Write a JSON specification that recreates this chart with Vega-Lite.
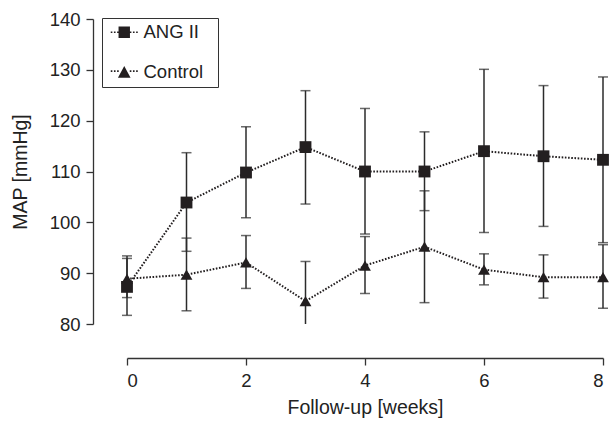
{
  "$schema": "https://vega.github.io/schema/vega-lite/v6.json",
  "width": 476,
  "height": 305,
  "autosize": {"type": "none"},
  "padding": {"left": 127, "top": 19, "right": 10, "bottom": 97},
  "config": {
    "view": {"stroke": null},
    "font": "Liberation Sans",
    "axis": {
      "domainColor": "#333333",
      "domainWidth": 1.3,
      "tickColor": "#333333",
      "tickWidth": 1.3,
      "labelColor": "#222222",
      "titleColor": "#222222",
      "labelFontSize": 18.5,
      "titleFontSize": 19.5,
      "titleFontWeight": "normal",
      "grid": false,
      "tickSize": 7,
      "labelPadding": 6,
      "offset": 34
    }
  },
  "data": {
    "values": [
      {"week": 0, "group": "ANG II", "mean": 87.3, "lo": 81.7, "hi": 92.9},
      {"week": 1, "group": "ANG II", "mean": 103.9, "lo": 94.3, "hi": 113.7},
      {"week": 2, "group": "ANG II", "mean": 109.8, "lo": 100.9, "hi": 118.8},
      {"week": 3, "group": "ANG II", "mean": 114.8, "lo": 103.6, "hi": 125.9},
      {"week": 4, "group": "ANG II", "mean": 110.0, "lo": 97.7, "hi": 122.4},
      {"week": 5, "group": "ANG II", "mean": 110.0, "lo": 102.3, "hi": 117.8},
      {"week": 6, "group": "ANG II", "mean": 114.0, "lo": 98.0, "hi": 130.1},
      {"week": 7, "group": "ANG II", "mean": 113.0, "lo": 99.2, "hi": 126.9},
      {"week": 8, "group": "ANG II", "mean": 112.3, "lo": 96.0, "hi": 128.6},
      {"week": 0, "group": "Control", "mean": 88.9, "lo": 85.2, "hi": 93.4},
      {"week": 1, "group": "Control", "mean": 89.7, "lo": 82.6, "hi": 96.9},
      {"week": 2, "group": "Control", "mean": 92.1, "lo": 87.0, "hi": 97.4},
      {"week": 3, "group": "Control", "mean": 84.5, "lo": 76.7, "hi": 92.3},
      {"week": 4, "group": "Control", "mean": 91.5, "lo": 86.0, "hi": 97.2},
      {"week": 5, "group": "Control", "mean": 95.2, "lo": 84.2, "hi": 106.2},
      {"week": 6, "group": "Control", "mean": 90.7, "lo": 87.7, "hi": 93.8},
      {"week": 7, "group": "Control", "mean": 89.2, "lo": 85.1, "hi": 93.6},
      {"week": 8, "group": "Control", "mean": 89.2, "lo": 83.1, "hi": 95.6}
    ]
  },
  "encoding": {
    "x": {
      "field": "week",
      "type": "quantitative",
      "scale": {"domain": [0, 8], "nice": false},
      "axis": {"values": [0, 2, 4, 6, 8], "title": "Follow-up [weeks]", "titlePadding": 9}
    }
  },
  "resolve": {"scale": {"shape": "independent"}, "legend": {"shape": "independent"}},
  "layer": [
    {
      "mark": {"type": "rule", "color": "#2b2b2b", "strokeWidth": 1.5},
      "encoding": {
        "y": {
          "field": "lo",
          "type": "quantitative",
          "scale": {"domain": [80, 140], "nice": false, "clamp": true},
          "axis": {"values": [80, 90, 100, 110, 120, 130, 140], "title": "MAP [mmHg]", "titlePadding": 19}
        },
        "y2": {"field": "hi"}
      }
    },
    {
      "mark": {"type": "tick", "orient": "horizontal", "color": "#2b2b2b", "size": 10, "thickness": 1.5},
      "encoding": {"y": {"field": "hi", "type": "quantitative"}}
    },
    {
      "transform": [{"filter": "datum.lo >= 80"}],
      "mark": {"type": "tick", "orient": "horizontal", "color": "#2b2b2b", "size": 10, "thickness": 1.5},
      "encoding": {"y": {"field": "lo", "type": "quantitative"}}
    },
    {
      "mark": {"type": "line", "color": "#231f20", "strokeWidth": 2, "strokeDash": [1.6, 1.6]},
      "encoding": {
        "y": {"field": "mean", "type": "quantitative"},
        "detail": {"field": "group"}
      }
    },
    {
      "mark": {"type": "point", "filled": true, "opacity": 1, "color": "#231f20", "size": 140},
      "encoding": {
        "y": {"field": "mean", "type": "quantitative"},
        "shape": {
          "field": "group",
          "type": "nominal",
          "scale": {"domain": ["ANG II", "Control"], "range": ["square", "triangle-up"]},
          "legend": null
        }
      }
    },
    {
      "transform": [{"filter": "false"}],
      "mark": {"type": "point", "filled": true, "color": "#231f20", "opacity": 1, "size": 144},
      "encoding": {
        "y": {"field": "mean", "type": "quantitative"},
        "shape": {
          "field": "group",
          "type": "nominal",
          "scale": {
            "domain": ["ANG II", "Control"],
            "range": [
              "M-0.95,-0.95H0.95V0.95H-0.95Z M-2.25,-0.13h0.27v0.27h-0.27Z M-1.72,-0.13h0.27v0.27h-0.27Z M-1.19,-0.13h0.27v0.27h-0.27Z M0.92,-0.13h0.27v0.27h-0.27Z M1.45,-0.13h0.27v0.27h-0.27Z M1.98,-0.13h0.27v0.27h-0.27Z",
              "M0,-1.05L1.05,0.9H-1.05Z M-2.25,-0.33h0.27v0.27h-0.27Z M-1.72,-0.33h0.27v0.27h-0.27Z M-1.19,-0.33h0.27v0.27h-0.27Z M0.92,-0.33h0.27v0.27h-0.27Z M1.45,-0.33h0.27v0.27h-0.27Z M1.98,-0.33h0.27v0.27h-0.27Z"
            ]
          },
          "legend": {
            "title": "\u00a0",
            "titleOrient": "right",
            "titleFontSize": 8,
            "titlePadding": 10,
            "orient": "none",
            "legendX": -25,
            "legendY": -1,
            "padding": 5,
            "rowPadding": 20,
            "strokeColor": "#333333",
            "symbolSize": 144,
            "symbolOffset": 8,
            "symbolFillColor": "#231f20",
            "symbolOpacity": 1,
            "labelOffset": 10,
            "labelFontSize": 18.5,
            "labelColor": "#222222"
          }
        }
      }
    }
  ]
}
